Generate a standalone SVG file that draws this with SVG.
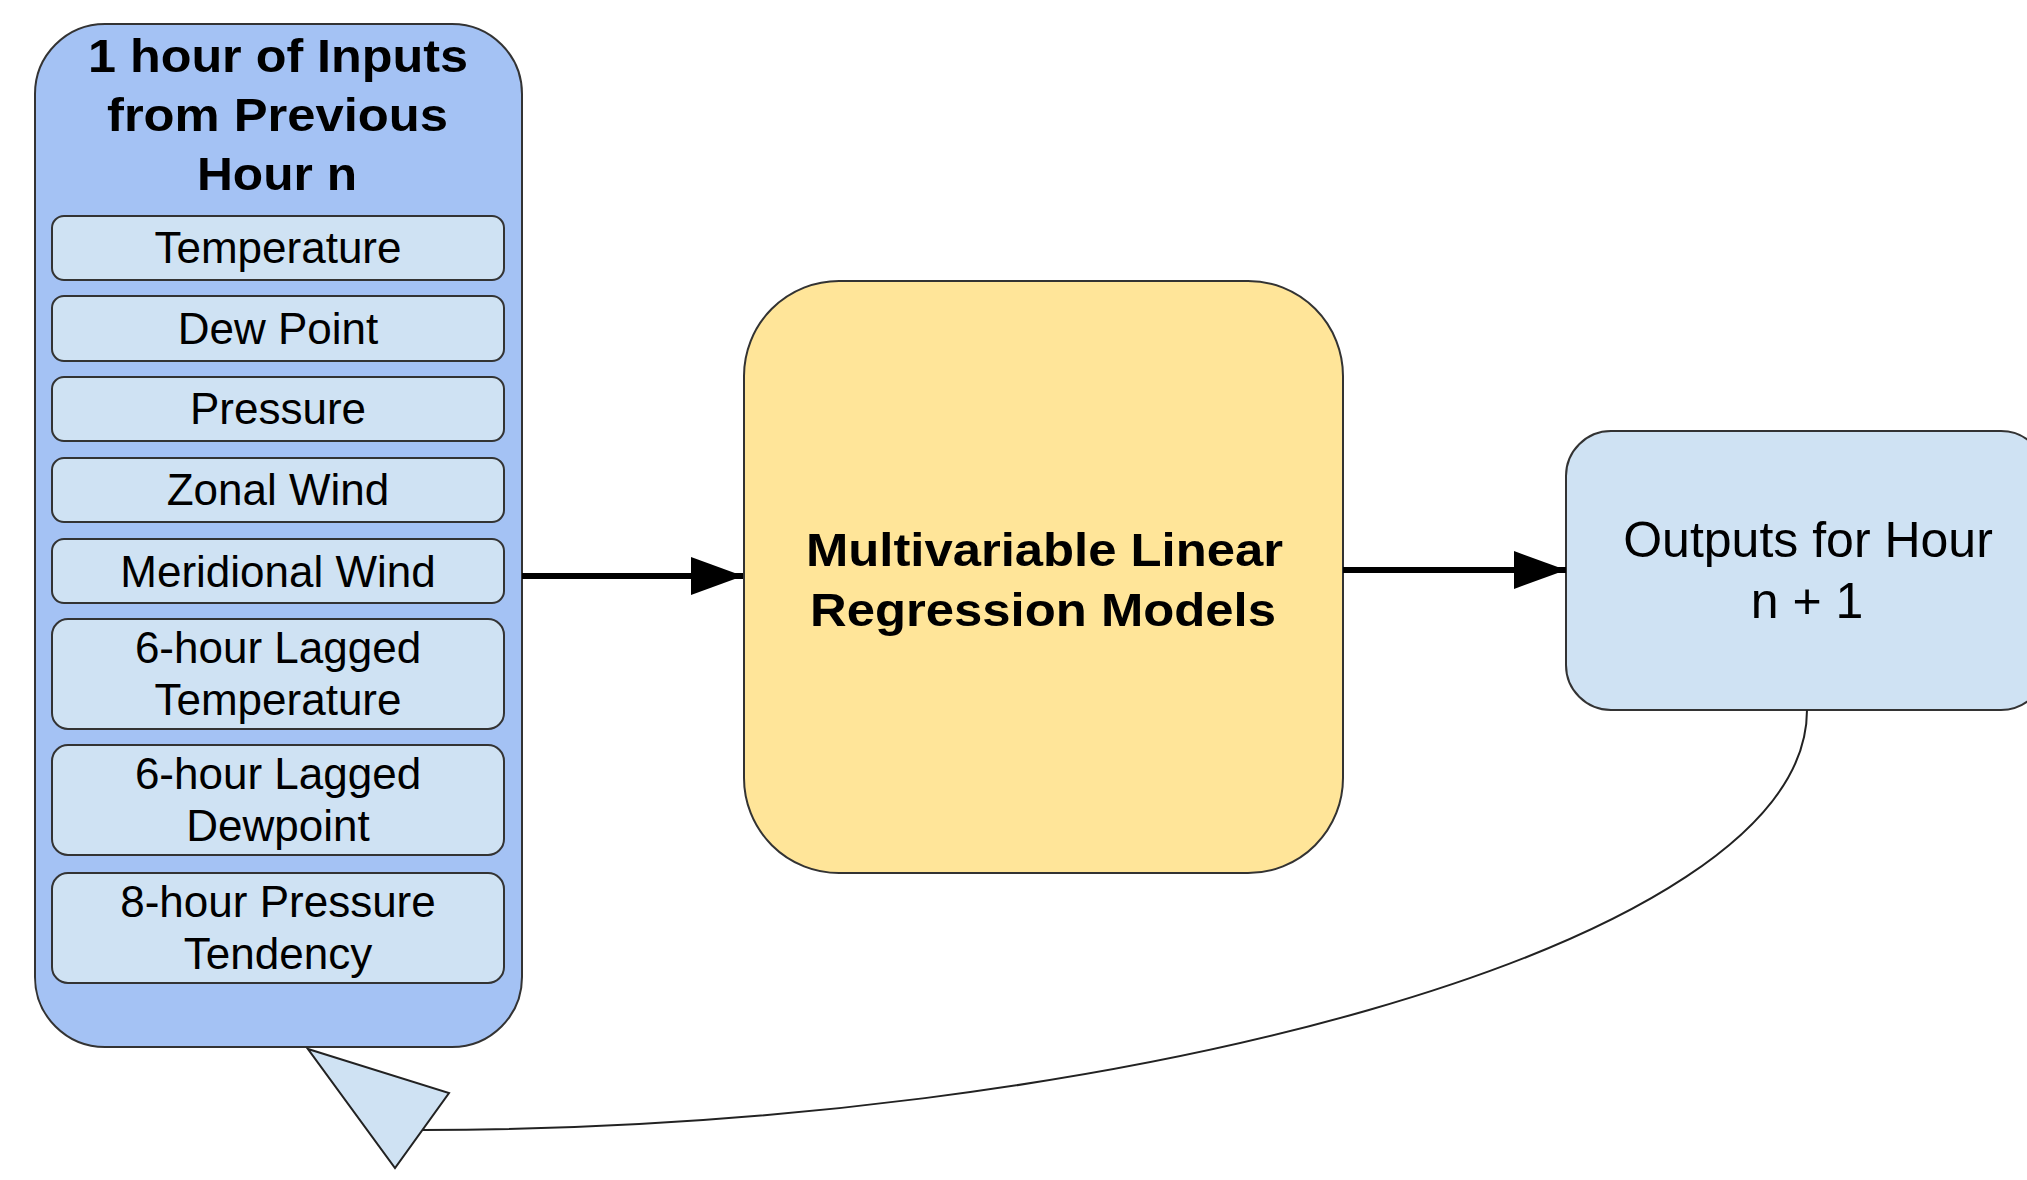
<svg xmlns="http://www.w3.org/2000/svg" width="2027" height="1180" viewBox="0 0 2027 1180">
  <defs>
    <style>
      .lbl { font-family: "Liberation Sans", Arial, Helvetica, sans-serif; fill: #000; }
      .bold { font-weight: bold; font-size: 47px; }
      .item { font-size: 44px; text-anchor: middle; }
      .out { font-size: 50px; text-anchor: middle; }
      .container { fill: #A4C2F4; stroke: #333; stroke-width: 2; }
      .field { fill: #CFE2F3; stroke: #333; stroke-width: 2; }
      .model { fill: #FFE599; stroke: #333; stroke-width: 2; }
      .flow { fill: none; stroke: #000; stroke-width: 6; }
      .loop { fill: none; stroke: #222; stroke-width: 2; }
      .loophead { fill: #CFE2F3; stroke: #222; stroke-width: 2; stroke-linejoin: miter; }
    </style>
    <marker id="solid-arrow" markerUnits="userSpaceOnUse" markerWidth="54" markerHeight="40" refX="52" refY="19" orient="auto">
      <path d="M0,0 L52,19 L0,38 Z" fill="#000"/>
    </marker>
  </defs>

  <!-- input container with its stacked fields -->
  <g id="inputs">
    <rect class="container" x="35" y="24" width="487" height="1023" rx="70" ry="70"/>
    <text class="lbl bold" x="88" y="72" textLength="380" lengthAdjust="spacingAndGlyphs">1 hour of Inputs</text>
    <text class="lbl bold" x="107" y="131" textLength="341" lengthAdjust="spacingAndGlyphs">from Previous</text>
    <text class="lbl bold" x="197" y="190" textLength="160" lengthAdjust="spacingAndGlyphs">Hour n</text>
  </g>
  <g id="field-temperature">
    <rect class="field" x="52" y="216" width="452" height="64" rx="12"/>
    <text class="lbl item" x="278" y="263">Temperature</text>
  </g>
  <g id="field-dew-point">
    <rect class="field" x="52" y="296" width="452" height="65" rx="12"/>
    <text class="lbl item" x="278" y="344">Dew Point</text>
  </g>
  <g id="field-pressure">
    <rect class="field" x="52" y="377" width="452" height="64" rx="12"/>
    <text class="lbl item" x="278" y="424">Pressure</text>
  </g>
  <g id="field-zonal-wind">
    <rect class="field" x="52" y="458" width="452" height="64" rx="12"/>
    <text class="lbl item" x="278" y="505">Zonal Wind</text>
  </g>
  <g id="field-meridional-wind">
    <rect class="field" x="52" y="539" width="452" height="64" rx="12"/>
    <text class="lbl item" x="278" y="587">Meridional Wind</text>
  </g>
  <g id="field-lagged-temperature">
    <rect class="field" x="52" y="619" width="452" height="110" rx="16"/>
    <text class="lbl item" x="278" y="663">6-hour Lagged</text>
    <text class="lbl item" x="278" y="715">Temperature</text>
  </g>
  <g id="field-lagged-dewpoint">
    <rect class="field" x="52" y="745" width="452" height="110" rx="16"/>
    <text class="lbl item" x="278" y="789">6-hour Lagged</text>
    <text class="lbl item" x="278" y="841">Dewpoint</text>
  </g>
  <g id="field-pressure-tendency">
    <rect class="field" x="52" y="873" width="452" height="110" rx="16"/>
    <text class="lbl item" x="278" y="917">8-hour Pressure</text>
    <text class="lbl item" x="278" y="969">Tendency</text>
  </g>

  <!-- regression model block -->
  <g id="models">
    <rect class="model" x="744" y="281" width="599" height="592" rx="95" ry="95"/>
    <text class="lbl bold" x="806" y="566" textLength="477" lengthAdjust="spacingAndGlyphs">Multivariable Linear</text>
    <text class="lbl bold" x="810" y="626" textLength="466" lengthAdjust="spacingAndGlyphs">Regression Models</text>
  </g>

  <!-- forecast outputs (runs off the right edge) -->
  <g id="outputs">
    <rect class="field" x="1566" y="431" width="480" height="279" rx="45" ry="45"/>
    <text class="lbl out" x="1808" y="557">Outputs for Hour</text>
    <text class="lbl out" x="1807" y="618">n + 1</text>
  </g>

  <!-- connectors -->
  <g id="connectors">
    <line class="flow" x1="522" y1="576" x2="743" y2="576" marker-end="url(#solid-arrow)"/>
    <line class="flow" x1="1343" y1="570" x2="1566" y2="570" marker-end="url(#solid-arrow)"/>
    <path class="loop" d="M1807,710 C1807,950 1100,1130 423,1130"/>
    <polygon class="loophead" points="308,1049 449,1093 395,1168"/>
  </g>
</svg>
